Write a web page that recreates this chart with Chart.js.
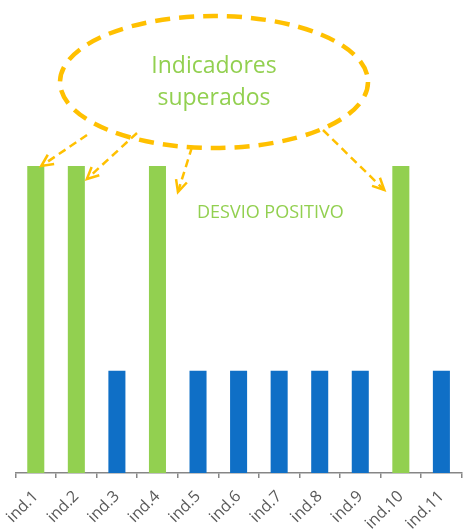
<!DOCTYPE html>
<html>
<head>
<meta charset="utf-8">
<script src="https://cdn.jsdelivr.net/npm/chart.js@4"></script>
<style>
  html, body { margin: 0; padding: 0; background: #fff; }
  #wrap { width: 464px; height: 532px; position: relative; }
</style>
</head>
<body>
<div id="wrap"><canvas id="chart"></canvas></div>
<script>
// categories and values
var categories = ['ind.1', 'ind.2', 'ind.3', 'ind.4', 'ind.5', 'ind.6', 'ind.7', 'ind.8', 'ind.9', 'ind.10', 'ind.11'];
var values = [3, 3, 1, 3, 1, 1, 1, 1, 1, 3, 1];
var target = 1;
var calloutLines = ['Indicadores', 'superados'];
var deviationLabel = 'DESVIO POSITIVO';

var GREEN = '#92D050';
var BLUE = '#0F6FC6';
var ORANGE = '#FFC000';
var AXIS = '#868686';

function barColor(v) { return v > target ? GREEN : BLUE; }

function dashedArrow(ctx, x1, y1, x2, y2) {
  var ang = Math.atan2(y2 - y1, x2 - x1);
  ctx.beginPath();
  ctx.setLineDash([8, 5]);
  ctx.moveTo(x1, y1);
  ctx.lineTo(x2, y2);
  ctx.stroke();
  ctx.setLineDash([]);
  ctx.beginPath();
  var len = 13, spread = 0.45;
  ctx.moveTo(x2 - len * Math.cos(ang - spread), y2 - len * Math.sin(ang - spread));
  ctx.lineTo(x2, y2);
  ctx.lineTo(x2 - len * Math.cos(ang + spread), y2 - len * Math.sin(ang + spread));
  ctx.stroke();
}

var callout = {
  id: 'callout',
  afterDraw: function(chart) {
    var ctx = chart.ctx;
    var x = chart.scales.x, y = chart.scales.y;
    var ex = 214, ey = 82, rx = 154, ry = 66;
    ctx.save();
    ctx.strokeStyle = ORANGE;
    ctx.lineWidth = 4.5;
    ctx.setLineDash([15, 9]);
    ctx.beginPath();
    ctx.ellipse(ex, ey, rx, ry, 0, 0, Math.PI * 2);
    ctx.stroke();

    ctx.fillStyle = GREEN;
    ctx.textAlign = 'center';
    ctx.textBaseline = 'alphabetic';
    ctx.font = '23px "Open Sans"';
    ctx.fillText(calloutLines[0], ex, 73);
    ctx.fillText(calloutLines[1], ex, 105);

    // arrows to the bars above target
    ctx.lineWidth = 2.5;
    ctx.lineCap = 'butt';
    var half = 8.5;
    var top = y.getPixelForValue(values[0]);
    dashedArrow(ctx, 87, 135, x.getPixelForValue(0) + half - 3, top);
    dashedArrow(ctx, 137, 133, x.getPixelForValue(1) + half + 2, top + 13);
    dashedArrow(ctx, 192, 147, x.getPixelForValue(3) + half + 12, top + 26);
    dashedArrow(ctx, 323, 130, x.getPixelForValue(9) - half - 8, top + 24);

    ctx.font = '18px "Open Sans"';
    ctx.textAlign = 'left';
    ctx.fillText(deviationLabel, 197, 218);
    ctx.restore();
  }
};

new Chart(document.getElementById('chart'), {
  type: 'bar',
  data: {
    labels: categories,
    datasets: [{
      data: values,
      backgroundColor: values.map(barColor),
      borderWidth: 0,
      categoryPercentage: 1,
      barPercentage: 0.42
    }]
  },
  options: {
    responsive: true,
    maintainAspectRatio: false,
    animation: false,
    events: [],
    layout: { padding: { top: 166, left: 15, right: 1, bottom: 0 } },
    plugins: { legend: { display: false }, tooltip: { enabled: false } },
    scales: {
      x: {
        grid: { display: true, drawOnChartArea: false, offset: true, color: AXIS, tickLength: 5, lineWidth: 1.5 },
        border: { color: AXIS, width: 1.5 },
        ticks: {
          color: '#595959',
          font: { family: '"Open Sans"', size: 16 },
          minRotation: 45,
          maxRotation: 45,
          padding: 9
        },
        afterFit: function(scale) { scale.height = 59; }
      },
      y: {
        display: false,
        min: 0,
        max: 3
      }
    }
  },
  plugins: [callout]
});
</script>
</body>
</html>
